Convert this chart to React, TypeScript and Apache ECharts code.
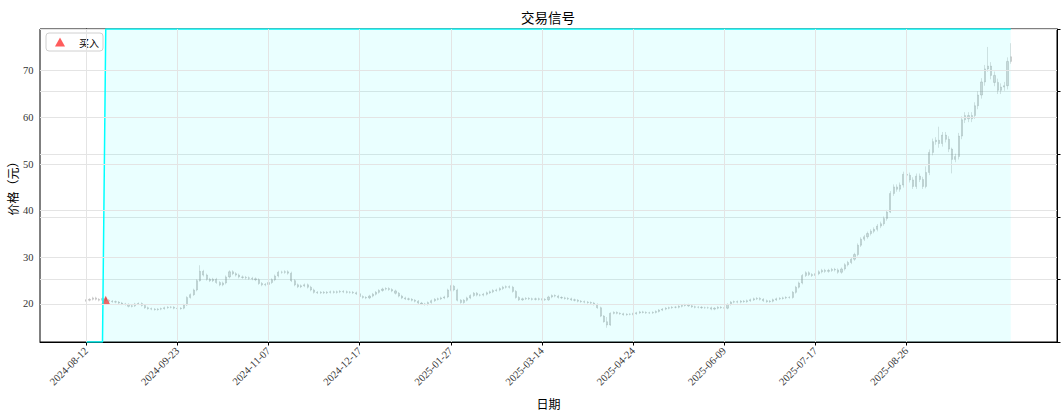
import { useEffect, useRef } from "react";
import * as echarts from "echarts";

// Daily closing prices (trading-day index 0..284)
const closes: number[] = [
  20.8, 21.0, 21.3, 21.0, 20.8, 21.2, 20.8, 20.6, 20.5, 20.4,
  20.2, 20.0, 19.9, 19.5, 19.6, 20.0, 20.1, 19.7, 19.2, 19.0,
  18.9, 18.8, 18.9, 19.0, 19.2, 19.3, 19.3, 19.1, 19.0, 19.1,
  19.8, 21.4, 22.0, 23.0, 25.0, 27.0, 26.2, 25.3, 25.0, 25.3,
  24.6, 24.1, 24.5, 25.8, 26.9, 26.5, 26.2, 25.8, 25.7, 25.6,
  25.5, 25.4, 25.2, 24.4, 24.1, 24.2, 24.6, 25.2, 26.0, 26.8,
  26.8, 26.9, 26.6, 25.0, 24.1, 23.7, 23.9, 24.1, 23.6, 23.0,
  22.5, 22.4, 22.5, 22.4, 22.5, 22.6, 22.5, 22.6, 22.7, 22.6,
  22.5, 22.5, 22.4, 22.2, 21.6, 21.4, 21.3, 21.7, 22.1, 22.5,
  22.9, 23.2, 23.3, 23.1, 22.8, 22.3, 21.7, 21.3, 21.1, 21.0,
  20.8, 20.6, 20.2, 20.0, 19.9, 20.3, 20.7, 21.0, 21.1, 21.3,
  21.5, 23.0, 23.8, 23.0, 20.8, 20.3, 20.8, 21.3, 21.8, 22.3,
  21.9, 21.9, 22.1, 22.4, 22.6, 22.9, 23.0, 23.3, 23.6, 23.7,
  23.6, 22.7, 21.4, 20.9, 21.1, 21.2, 21.1, 21.0, 21.1, 21.0,
  21.0, 20.9, 21.5, 21.8, 21.7, 21.4, 21.3, 21.2, 21.1, 20.9,
  20.8, 20.6, 20.5, 20.4, 20.3, 20.2, 19.9, 19.2, 17.4, 16.2,
  15.5, 18.0, 18.2, 18.0, 17.9, 17.7, 17.8, 17.8, 17.9, 18.1,
  18.3, 18.2, 18.1, 18.1, 18.2, 18.4, 18.7, 18.9, 19.1, 19.2,
  19.3, 19.3, 19.5, 19.7, 19.8, 19.6, 19.4, 19.3, 19.3, 19.2,
  19.2, 19.2, 18.9, 19.1, 19.3, 19.2, 19.1, 19.9, 20.4, 20.5,
  20.4, 20.6, 20.5, 20.7, 20.9, 21.1, 21.2, 21.0, 20.7, 20.5,
  20.6, 20.9, 21.1, 21.2, 21.3, 21.4, 21.4, 22.5, 23.6, 24.5,
  26.1, 26.7, 26.3, 26.1, 26.5, 26.9, 27.2, 27.0, 27.2, 27.4,
  27.3, 26.8, 27.5, 28.4, 28.9, 29.6, 30.6, 32.6, 33.9, 34.4,
  35.1, 35.6, 36.0, 36.7, 37.2, 38.3, 39.7, 43.7, 45.1, 44.6,
  45.5, 47.8, 47.6, 46.6, 45.2, 47.4, 46.7, 45.2, 48.2, 52.5,
  54.8, 55.1, 54.4, 56.2, 55.3, 53.2, 51.0, 51.6, 56.0, 59.5,
  60.4, 59.7, 60.4, 62.5, 64.8, 67.6, 70.4, 71.0, 69.0, 67.5,
  65.8, 66.5, 66.8, 72.0, 73.0,
];
const firstOpen = 20.7;
// Visible long shadows: [index, high, low]
const longShadows: [number, number, number][] = [
  [35, 28.3, 24.8],
  [160, 17.2, 14.9],
  [247, 44.2, 39.5],
  [258, 49.5, 44.8],
  [262, 58.0, 53.5],
  [266, 53.5, 48.0],
  [277, 75.1, 69.8],
  [284, 75.9, 71.5],
];
const shadowRatio = 0.012;

const tickIndex = [0, 28, 56, 84, 112, 140, 168, 196, 224, 252];
const tickLabels = [
  "2024-08-12", "2024-09-23", "2024-11-07", "2024-12-17", "2025-01-27",
  "2025-03-14", "2025-04-24", "2025-06-09", "2025-07-17", "2025-08-26",
];
const priceTicks = [20, 30, 40, 50, 60, 70];
// Position signal (0 = flat, 1 = holding) as [index, value]
const positionPoints: [number, number][] = [[0, 0], [5, 0], [6, 1], [284, 1]];
// Buy signal [index, price]
const buyPoints: [number, number][] = [[6, 20.8]];

const CJK = "Noto Sans CJK SC";
const SERIF = "Liberation Serif";

export default function App() {
  const ref = useRef<HTMLDivElement>(null);
  useEffect(() => {
    if (!ref.current) return;
    const chart = echarts.init(ref.current, undefined, { renderer: "svg" });
    const shadowMap = new Map(longShadows.map((s) => [s[0], s]));
    const candles = closes.map((c, i) => {
      const o = i === 0 ? firstOpen : closes[i - 1];
      const s = shadowMap.get(i);
      const hi = s ? s[1] : Math.max(o, c) * (1 + shadowRatio);
      const lo = s ? s[2] : Math.min(o, c) * (1 - shadowRatio);
      return [i, o, c, lo, hi];
    });
    const gridLines = [
      ...tickIndex.map((v) => ({ xAxis: v })),
      ...priceTicks.map((v) => ({ yAxis: v })),
    ];
    chart.setOption({
      animation: false,
      backgroundColor: "#ffffff",
      title: {
        text: "交易信号",
        left: 548,
        top: 10,
        padding: 0,
        textAlign: "center",
        textStyle: { fontFamily: CJK, fontSize: 13.5, fontWeight: "normal", color: "#000" },
      },
      legend: {
        data: ["买入"],
        left: 46,
        top: 33,
        orient: "vertical",
        icon: "triangle",
        itemWidth: 10,
        itemHeight: 9,
        padding: [4, 4, 4, 9],
        borderColor: "#d0d0d0",
        borderWidth: 1,
        borderRadius: 3,
        backgroundColor: "rgba(255,255,255,0.8)",
        textStyle: { fontFamily: CJK, fontSize: 10, color: "#000", padding: [0, 0, 0, 9] },
      },
      grid: {
        left: 40,
        right: 6,
        top: 29,
        bottom: 73,
        outerBoundsMode: "none",
        containLabel: false,
        show: true,
        borderColor: "#000",
        borderWidth: 1,
        backgroundColor: "transparent",
      },
      xAxis: {
        type: "value",
        min: -14.2,
        max: 298.2,
        name: "日期",
        nameLocation: "middle",
        nameGap: 55,
        nameMoveOverlap: false,
        nameTextStyle: { fontFamily: CJK, fontSize: 12, color: "#000", verticalAlign: "top" },
        axisLine: { show: true, lineStyle: { color: "#000", width: 1 } },
        axisTick: { show: true, customValues: tickIndex, length: 3.5, lineStyle: { color: "#000" } },
        axisLabel: {
          customValues: tickIndex,
          rotate: 45,
          margin: 7,
          fontFamily: SERIF,
          fontSize: 10.5,
          color: "#333",
          formatter: (v: number) => {
            const k = tickIndex.indexOf(v);
            return k >= 0 ? tickLabels[k] : "";
          },
        },
        splitLine: { show: false },
      },
      yAxis: [
        {
          type: "value",
          min: 11.85,
          max: 78.95,
          position: "left",
          name: "价格（元）",
          nameLocation: "middle",
          nameGap: 22,
          nameRotate: 90,
          nameMoveOverlap: false,
          nameTextStyle: { fontFamily: CJK, fontSize: 12, color: "#000" },
          axisLine: { show: true, lineStyle: { color: "#000", width: 1 } },
          axisTick: { show: true, customValues: priceTicks, length: 3.5, lineStyle: { color: "#000" } },
          axisLabel: { customValues: priceTicks, margin: 6.5, fontFamily: SERIF, fontSize: 10.5, color: "#333" },
          splitLine: { show: false },
        },
        {
          type: "value",
          min: 0,
          max: 1,
          interval: 0.2,
          position: "right",
          axisLine: { show: true, lineStyle: { color: "#000", width: 1 } },
          axisTick: { show: true, length: 3.5, lineStyle: { color: "#000" } },
          axisLabel: { show: false },
          splitLine: { show: true, lineStyle: { color: "#e4e4e4", width: 1 } },
        },
      ],
      series: [
        {
          type: "candlestick",
          name: "K线",
          data: candles,
          encode: { x: 0, y: [1, 2, 3, 4] },
          barWidth: 1.6,
          itemStyle: {
            color: "#808080",
            color0: "#808080",
            borderColor: "#808080",
            borderColor0: "#808080",
            borderWidth: 0.8,
            opacity: 0.32,
          },
          markLine: {
            silent: true,
            symbol: ["none", "none"],
            label: { show: false },
            lineStyle: { color: "#e4e4e4", width: 1, type: "solid" },
            data: gridLines,
          },
          z: 2,
        },
        {
          type: "scatter",
          name: "买入",
          data: buyPoints,
          symbol: "triangle",
          symbolSize: 9,
          itemStyle: { color: "rgba(255,0,0,0.8)" },
          z: 3,
        },
        {
          type: "line",
          name: "持仓",
          yAxisIndex: 1,
          data: positionPoints,
          symbol: "none",
          lineStyle: { color: "#00ffff", width: 1.5 },
          areaStyle: { color: "rgba(0,255,255,0.12)" },
          z: 4,
        },
      ],
    });
    return () => chart.dispose();
  }, []);
  return (
    <div
      ref={ref}
      style={{ position: "fixed", left: 0, top: 0, width: 1063, height: 415, background: "#fff" }}
    />
  );
}
